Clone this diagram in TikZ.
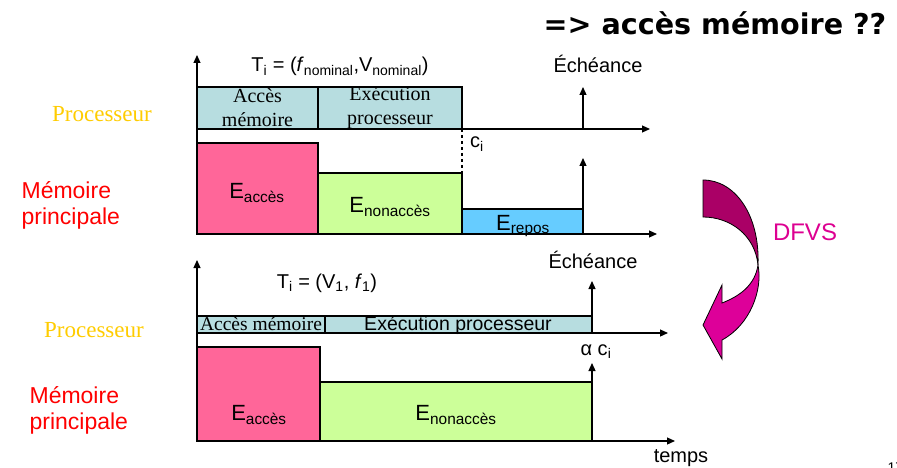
\documentclass[tikz,border=0pt]{standalone}
\usepackage{fontspec}
\setmainfont{Liberation Serif}
\setsansfont{Liberation Sans}
\newfontfamily\titlefamily{DejaVu Sans}
\usetikzlibrary{positioning,arrows.meta,calc}
\tikzset{>={Triangle[length=8pt,width=7pt]}}

\definecolor{procfill}{RGB}{183,221,224}
\definecolor{accfill}{RGB}{255,102,153}
\definecolor{nonaccfill}{RGB}{204,255,153}
\definecolor{reposfill}{RGB}{102,204,255}
\definecolor{procgold}{RGB}{255,204,0}
\definecolor{dfvsmag}{RGB}{221,0,145}
\definecolor{arrowdark}{RGB}{170,0,102}
\definecolor{arrowlight}{RGB}{221,0,153}

\tikzset{
  bar/.style={draw, inner sep=0pt, outer sep=0pt, anchor=south west},
  serif/.style={font=\rmfamily\fontsize{20}{24}\selectfont, inner sep=0pt, align=center},
  sans/.style={font=\sffamily\fontsize{20}{24}\selectfont, inner sep=0pt, anchor=base},
  energy/.style={font=\sffamily\fontsize{22}{26}\selectfont, inner sep=0pt, anchor=base},
  rowproc/.style={font=\rmfamily\fontsize{23}{27}\selectfont, text=procgold, inner sep=0pt, anchor=base},
  rowmem/.style={font=\sffamily\fontsize{23}{26}\selectfont, text=red, inner sep=0pt, align=left, anchor=west}
}

\begin{document}
\begin{tikzpicture}[x=1pt, y=-1pt, line width=1.2pt]
    \useasboundingbox (0,0) rectangle (897,468);

    \node[font=\titlefamily\bfseries\fontsize{28.6}{32}\selectfont, inner sep=0pt, anchor=base] (titre) at (715,35) {=> accès mémoire ??};

    \node[bar, fill=procfill, minimum width=121pt, minimum height=42pt] (pacc1) at (197,129) {};
    \node[bar, fill=procfill, minimum width=144pt, minimum height=42pt] (pexe1) at (pacc1.south east) {};
    \node[bar, fill=accfill, minimum width=121pt, minimum height=91pt] (macc1) at (197,234) {};
    \node[bar, fill=nonaccfill, minimum width=144pt, minimum height=61pt] (mnon1) at (macc1.south east) {};
    \node[bar, fill=reposfill, minimum width=121pt, minimum height=25pt] (mrep1) at (mnon1.south east) {};

    \node[bar, fill=procfill, minimum width=128pt, minimum height=17pt] (pacc2) at (197,333) {};
    \node[bar, fill=procfill, minimum width=267pt, minimum height=17pt] (pexe2) at (pacc2.south east) {};
    \node[bar, fill=accfill, minimum width=123pt, minimum height=94pt] (macc2) at (197,441) {};
    \node[bar, fill=nonaccfill, minimum width=272pt, minimum height=59pt] (mnon2) at (macc2.south east) {};

    \coordinate (o1) at (197,129);
    \coordinate (t1) at (650,129);
    \coordinate (y1) at (197,55);
    \coordinate (o2) at (197,234);
    \coordinate (t2) at (657,234);
    \coordinate (e1) at (583,87);
    \coordinate (e2) at (583,158);
    \coordinate (o3) at (197,333);
    \coordinate (t3) at (668,333);
    \coordinate (y3) at (197,260);
    \coordinate (o4) at (197,441);
    \coordinate (t4) at (675,441);
    \coordinate (e3) at (592,281);
    \coordinate (e4) at (592,363);

    \path[->] (o1) edge (t1)
              (o2) edge (t2)
              (o2) edge (y1)
              (e1 |- o1) edge (e1)
              (mrep1.south east) edge (e2)
              (o3) edge (t3)
              (o4) edge (t4)
              (o4) edge (y3)
              (pexe2.south east) edge (e3)
              (mnon2.south east) edge (e4);
    \draw[dashed] (pexe1.south east) -- (mnon1.north east);

    \node[serif] (lacc1) at (pacc1.center) {Accès\\mémoire};
    \node[serif] (lexe1) at (pexe1.center) {Exécution\\processeur};
    \node[serif, anchor=base, font=\rmfamily\fontsize{19.5}{24}\selectfont] (lacc2) at (261,330) {Accès mémoire};
    \node[sans, font=\sffamily\fontsize{19.5}{24}\selectfont] (lexe2) at (458,330) {Exécution processeur};

    \node[sans] (ti1) at (340,72) {T\textsubscript{i} = (\textit{f}\textsubscript{nominal},V\textsubscript{nominal})};
    \node[sans] (ech1) at (598,73) {Échéance};
    \node[sans] (ci1) at (477,148) {c\textsubscript{i}};
    \node[sans] (ti2) at (327,288) {T\textsubscript{i} = (V\textsubscript{1}, \textit{f}\textsubscript{1})};
    \node[sans] (ech2) at (593,268) {Échéance};
    \node[sans] (ci2) at (596,355) {α c\textsubscript{i}};
    \node[sans] (temps) at (681,462) {temps};

    \node[energy] (eacc1) at (257,198) {E\textsubscript{accès}};
    \node[energy] (enon1) at (390,212) {E\textsubscript{nonaccès}};
    \node[energy] (erep1) at (523,230) {E\textsubscript{repos}};
    \node[energy] (eacc2) at (259,420) {E\textsubscript{accès}};
    \node[energy] (enon2) at (456,420) {E\textsubscript{nonaccès}};

    \node[rowproc] (rp1) at (102,122) {Processeur};
    \node[rowmem] (rm1) at (21,205) {Mémoire\\principale};
    \node[rowproc] (rp2) at (94,337) {Processeur};
    \node[rowmem] (rm2) at (29,410) {Mémoire\\principale};

    \filldraw[fill=arrowdark, line width=0.8pt] (703,180) .. controls (735,180) and (760,215) .. (758,265)
        .. controls (755,235) and (730,217) .. (703,217) -- cycle;
    \filldraw[fill=arrowlight, line width=0.8pt] (758,265) .. controls (763,290) and (750,325) .. (722,340)
        -- (722,359) -- (703,325) -- (722,285) -- (722,303)
        .. controls (740,296) and (755,285) .. (758,265) -- cycle;
    \node[font=\sffamily\fontsize{24}{28}\selectfont, text=dfvsmag, inner sep=0pt, anchor=base] (dfvs) at (805,240) {DFVS};

    \node[font=\sffamily\fontsize{14}{16}\selectfont, inner sep=0pt, anchor=base west] (page) at (887,472) {17};
\end{tikzpicture}
\end{document}
